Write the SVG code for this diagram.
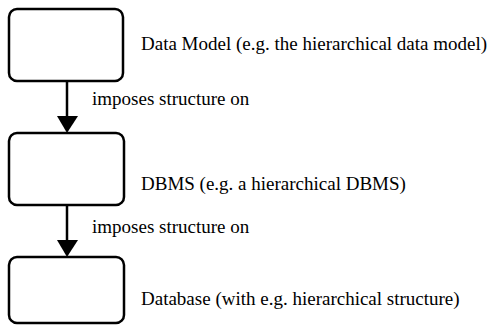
<svg xmlns="http://www.w3.org/2000/svg" width="500" height="329" viewBox="0 0 500 329">
  <style>
    .box { fill: #fff; stroke: #000; stroke-width: 2.5; }
    .lbl { font-family: 'Liberation Serif', 'DejaVu Serif', 'Times New Roman', Times, serif; font-size: 19px; fill: #000; }
    .edge { stroke: #000; stroke-width: 2.5; fill: none; }
    .head { fill: #000; }
  </style>
  <rect width="500" height="329" fill="#fff"/>

  <g id="data-model">
    <rect class="box" x="9" y="9" width="114" height="72" rx="8" ry="8"/>
    <text class="lbl" font-family="Liberation Serif, serif" x="141" y="50">Data Model (e.g. the hierarchical data model)</text>
  </g>

  <g id="dbms">
    <rect class="box" x="9" y="133" width="115" height="72" rx="8" ry="8"/>
    <text class="lbl" font-family="Liberation Serif, serif" x="141" y="190">DBMS (e.g. a hierarchical DBMS)</text>
  </g>

  <g id="database">
    <rect class="box" x="9" y="257" width="115" height="66" rx="8" ry="8"/>
    <text class="lbl" font-family="Liberation Serif, serif" x="141" y="305">Database (with e.g. hierarchical structure)</text>
  </g>

  <g id="connectors">
    <line class="edge" x1="67" y1="81" x2="67" y2="118"/>
    <polygon class="head" points="57,116 78,116 67,133"/>
    <text class="lbl" font-family="Liberation Serif, serif" x="92" y="105">imposes structure on</text>

    <line class="edge" x1="67" y1="205" x2="67" y2="242"/>
    <polygon class="head" points="57,240 78,240 67,257"/>
    <text class="lbl" font-family="Liberation Serif, serif" x="92" y="233">imposes structure on</text>
  </g>
</svg>
